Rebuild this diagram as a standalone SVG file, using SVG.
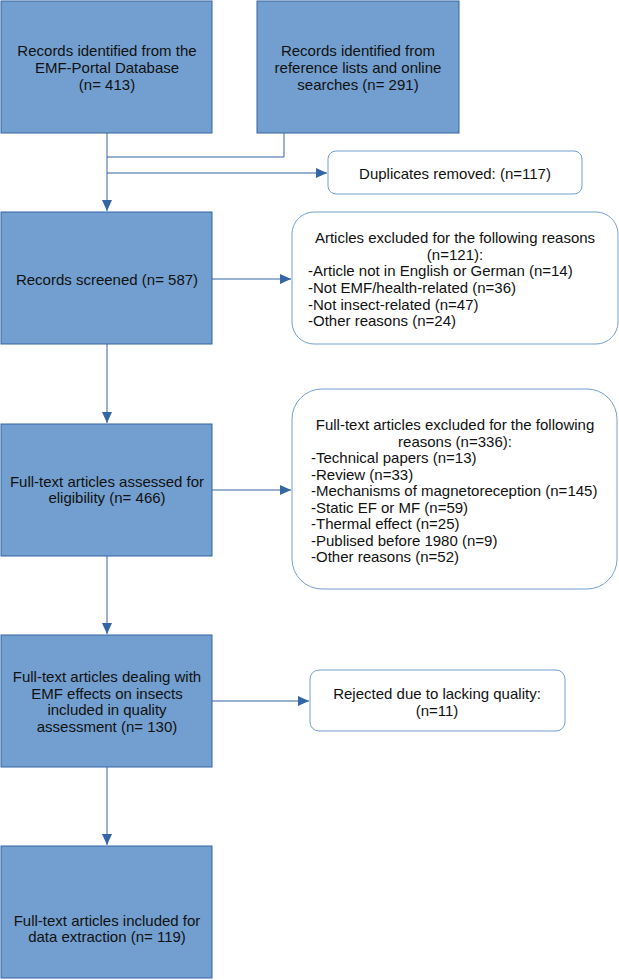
<svg xmlns="http://www.w3.org/2000/svg" width="619" height="980" viewBox="0 0 619 980">
<style>
.b{fill:#729fcf;stroke:#3465a4;stroke-width:1}
.r{fill:#fff;stroke:#729fcf;stroke-width:1}
text{font-family:"Liberation Sans",Arial,sans-serif;font-size:15px;fill:#111}
.c{text-anchor:middle}
.l{fill:none;stroke:#3465a4;stroke-width:1}
</style>
<defs>
<marker id="a" markerWidth="12" markerHeight="10" refX="11" refY="5" orient="auto" markerUnits="userSpaceOnUse">
<path d="M0,0 L11,5 L0,10 z" fill="#3465a4"/>
</marker>
</defs>
<g id="connectors">
<path class="l" d="M107,133 V157"/>
<path class="l" d="M284,133 V157 H107"/>
<path class="l" d="M107,157 V211" marker-end="url(#a)"/>
<path class="l" d="M107,173 H327" marker-end="url(#a)"/>
<path class="l" d="M212,279 H291" marker-end="url(#a)"/>
<path class="l" d="M107,344 V423" marker-end="url(#a)"/>
<path class="l" d="M212,490 H291" marker-end="url(#a)"/>
<path class="l" d="M107,556 V634" marker-end="url(#a)"/>
<path class="l" d="M212,701 H309" marker-end="url(#a)"/>
<path class="l" d="M107,767 V845" marker-end="url(#a)"/>
</g>
<g id="n1">
<rect class="b" x="1" y="1" width="211" height="132"/>
<text class="c" x="107" y="56">Records identified from the</text>
<text class="c" x="107" y="73">EMF-Portal Database</text>
<text class="c" x="107" y="90">(n= 413)</text>
</g>
<g id="n2">
<rect class="b" x="257" y="1" width="202" height="132"/>
<text class="c" x="358" y="56">Records identified from</text>
<text class="c" x="358" y="73">reference lists and online</text>
<text class="c" x="358" y="90">searches (n= 291)</text>
</g>
<g id="n3">
<rect class="r" x="328" y="151" width="254" height="43" rx="8"/>
<text class="c" x="455" y="179">Duplicates removed: (n=117)</text>
</g>
<g id="n4">
<rect class="b" x="1" y="212" width="211" height="132"/>
<text class="c" x="107" y="285">Records screened (n= 587)</text>
</g>
<g id="n5">
<rect class="r" x="292" y="212" width="326" height="132" rx="22"/>
<text class="c" x="455" y="243">Articles excluded for the following reasons</text>
<text class="c" x="455" y="260">(n=121):</text>
<text x="308" y="276">-Article not in English or German (n=14)</text>
<text x="308" y="293">-Not EMF/health-related (n=36)</text>
<text x="308" y="310">-Not insect-related (n=47)</text>
<text x="308" y="326">-Other reasons (n=24)</text>
</g>
<g id="n6">
<rect class="b" x="1" y="424" width="211" height="132"/>
<text class="c" x="107" y="487">Full-text articles assessed for</text>
<text class="c" x="107" y="503">eligibility (n= 466)</text>
</g>
<g id="n7">
<rect class="r" x="292" y="389" width="325" height="200" rx="30"/>
<text class="c" x="455" y="430">Full-text articles excluded for the following</text>
<text class="c" x="455" y="447">reasons (n=336):</text>
<text x="311" y="463">-Technical papers (n=13)</text>
<text x="311" y="480">-Review (n=33)</text>
<text x="311" y="496">-Mechanisms of magnetoreception (n=145)</text>
<text x="311" y="513">-Static EF or MF (n=59)</text>
<text x="311" y="529">-Thermal effect (n=25)</text>
<text x="311" y="546">-Publised before 1980 (n=9)</text>
<text x="311" y="562">-Other reasons (n=52)</text>
</g>
<g id="n8">
<rect class="b" x="1" y="635" width="211" height="132"/>
<text class="c" x="107" y="682">Full-text articles dealing with</text>
<text class="c" x="107" y="699">EMF effects on insects</text>
<text class="c" x="107" y="715">included in quality</text>
<text class="c" x="107" y="732">assessment (n= 130)</text>
</g>
<g id="n9">
<rect class="r" x="310" y="670" width="255" height="61" rx="9"/>
<text class="c" x="437" y="699">Rejected due to lacking quality:</text>
<text class="c" x="437" y="716">(n=11)</text>
</g>
<g id="n10">
<rect class="b" x="1" y="846" width="211" height="132"/>
<text class="c" x="107" y="926">Full-text articles included for</text>
<text class="c" x="107" y="942">data extraction (n= 119)</text>
</g>
</svg>
